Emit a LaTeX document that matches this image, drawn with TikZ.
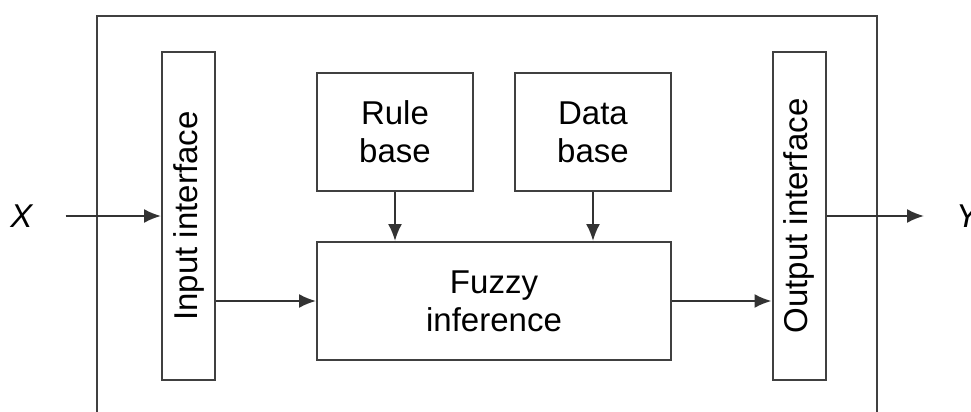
\documentclass[tikz,border=0pt]{standalone}
\usepackage{fontspec}
\setmainfont{Liberation Sans}
\usetikzlibrary{arrows.meta}

\begin{document}
\begin{tikzpicture}[x=0.5pt, y=-0.5pt,
    node font=\fontsize{16.5}{19}\selectfont,
    line width=1pt, draw=black!75,
    blk/.style={draw=black!75, align=center, inner sep=0pt},
    iface/.style={blk, minimum width=26.5pt, minimum height=164pt},
    arr/.style={black!80, -{Latex[length=8.5pt, width=7pt]}}]
        \useasboundingbox (0,0) rectangle (971,412);
        % outer frame
        \draw[black!75] (97,412) |- (877,16) -- (877,412);
        \node[iface] (input) at (188.5,216) {\rotatebox{90}{Input interface}};
        \node[iface] (output) at (799,216) {\rotatebox{90}{Output interface}};
        \node[blk, minimum width=78pt, minimum height=59pt] (rule) at (395,132) {Rule\\base};
        \node[blk, minimum width=78pt, minimum height=59pt] (data) at (593,132) {Data\\base};
        \node[blk, minimum width=177pt, minimum height=59pt] (fuzzy) at (494,301) {Fuzzy\\inference};
        \node (X) at (22,216) {\textit{X}};
        \node (Y) at (968,216) {\textit{Y}};
        \draw[arr, shorten <=10pt] (X) -- (input);
        \draw[arr] (input.east |- fuzzy) -- (fuzzy);
        \draw[arr] (fuzzy) -- (output.west |- fuzzy);
        \draw[arr, shorten >=10pt] (output) -- (Y);
        \draw[arr] (rule) -- (rule |- fuzzy.north);
        \draw[arr] (data) -- (data |- fuzzy.north);
      \end{tikzpicture}
\end{document}
